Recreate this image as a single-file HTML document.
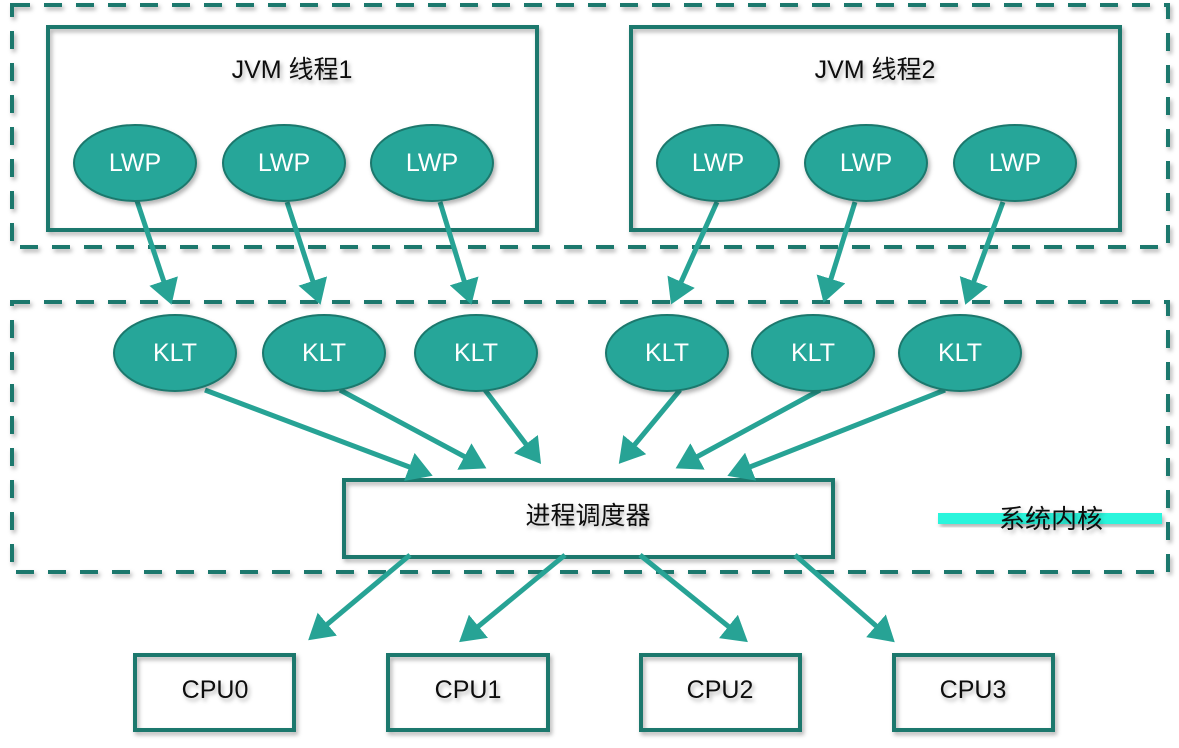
<!DOCTYPE html>
<html><head><meta charset="utf-8"><style>
html,body{margin:0;padding:0;background:#fff}
svg{display:block}
text{font-family:"Liberation Sans","Noto Sans CJK SC",sans-serif}
</style></head><body>
<svg width="1179" height="748" viewBox="0 0 1179 748">
<defs>
<filter id="sh" x="-10%" y="-10%" width="130%" height="140%"><feDropShadow dx="2" dy="3" stdDeviation="2" flood-color="#000" flood-opacity="0.3"/></filter>
<marker id="ar" markerWidth="6" markerHeight="6" refX="4" refY="3" orient="auto" markerUnits="strokeWidth"><path d="M0,0 L5,3 L0,6 Z" fill="#27a395"/></marker>
</defs>
<g filter="url(#sh)" fill="none" stroke="#1d786d" stroke-width="4">
<rect x="12" y="5" width="1156" height="242" stroke-dasharray="18,14"/>
<rect x="12" y="302" width="1156" height="270" stroke-dasharray="18,14"/>
<rect x="48" y="27" width="489" height="203"/>
<rect x="631" y="27" width="489" height="203"/>
<rect x="344" y="480" width="489" height="77"/>
<rect x="135" y="655" width="159" height="75"/>
<rect x="388" y="655" width="160" height="75"/>
<rect x="641" y="655" width="159" height="75"/>
<rect x="894" y="655" width="159" height="75"/>
</g>
<rect x="938" y="513" width="224" height="11" fill="#2cf5dc" filter="url(#sh)"/>
<g stroke="#27a395" stroke-width="5" marker-end="url(#ar)">
<line x1="137" y1="201" x2="170" y2="300"/>
<line x1="287" y1="202" x2="319" y2="300"/>
<line x1="440" y1="202" x2="470" y2="300"/>
<line x1="717" y1="202" x2="673" y2="300"/>
<line x1="855" y1="202" x2="825" y2="298"/>
<line x1="1003" y1="202" x2="967" y2="300"/>
<line x1="205" y1="390" x2="428" y2="474"/>
<line x1="340" y1="390" x2="482" y2="466"/>
<line x1="485" y1="390" x2="538" y2="460"/>
<line x1="680" y1="390" x2="622" y2="460"/>
<line x1="820" y1="390" x2="680" y2="466"/>
<line x1="945" y1="390" x2="732" y2="474"/>
<line x1="410" y1="555" x2="312" y2="637"/>
<line x1="565" y1="555" x2="463" y2="639"/>
<line x1="640" y1="555" x2="744" y2="639"/>
<line x1="795" y1="555" x2="891" y2="639"/>
</g>
<g fill="#26a699" stroke="#1d786d" stroke-width="2" filter="url(#sh)">
<ellipse cx="135" cy="163" rx="61" ry="38"/>
<ellipse cx="284" cy="163" rx="61" ry="38"/>
<ellipse cx="432" cy="163" rx="61" ry="38"/>
<ellipse cx="718" cy="163" rx="61" ry="38"/>
<ellipse cx="866" cy="163" rx="61" ry="38"/>
<ellipse cx="1015" cy="163" rx="61" ry="38"/>
<ellipse cx="175" cy="353" rx="61" ry="38"/>
<ellipse cx="324" cy="353" rx="61" ry="38"/>
<ellipse cx="476" cy="353" rx="61" ry="38"/>
<ellipse cx="667" cy="353" rx="61" ry="38"/>
<ellipse cx="813" cy="353" rx="61" ry="38"/>
<ellipse cx="960" cy="353" rx="61" ry="38"/>
</g>
<g fill="#fff" font-size="25" text-anchor="middle" dominant-baseline="central">
<text x="135" y="163">LWP</text><text x="284" y="163">LWP</text><text x="432" y="163">LWP</text>
<text x="718" y="163">LWP</text><text x="866" y="163">LWP</text><text x="1015" y="163">LWP</text>
<text x="175" y="353">KLT</text><text x="324" y="353">KLT</text><text x="476" y="353">KLT</text>
<text x="667" y="353">KLT</text><text x="813" y="353">KLT</text><text x="960" y="353">KLT</text>
</g>
<g fill="#111" font-size="25" text-anchor="middle" dominant-baseline="central" filter="url(#sh)">
<text x="292" y="70">JVM 线程1</text>
<text x="875" y="70">JVM 线程2</text>
<text x="588" y="516">进程调度器</text>
<text x="215" y="690">CPU0</text>
<text x="468" y="690">CPU1</text>
<text x="720" y="690">CPU2</text>
<text x="973" y="690">CPU3</text>
<text x="1051" y="519" font-size="26">系统内核</text>
</g>
</svg>
</body></html>
